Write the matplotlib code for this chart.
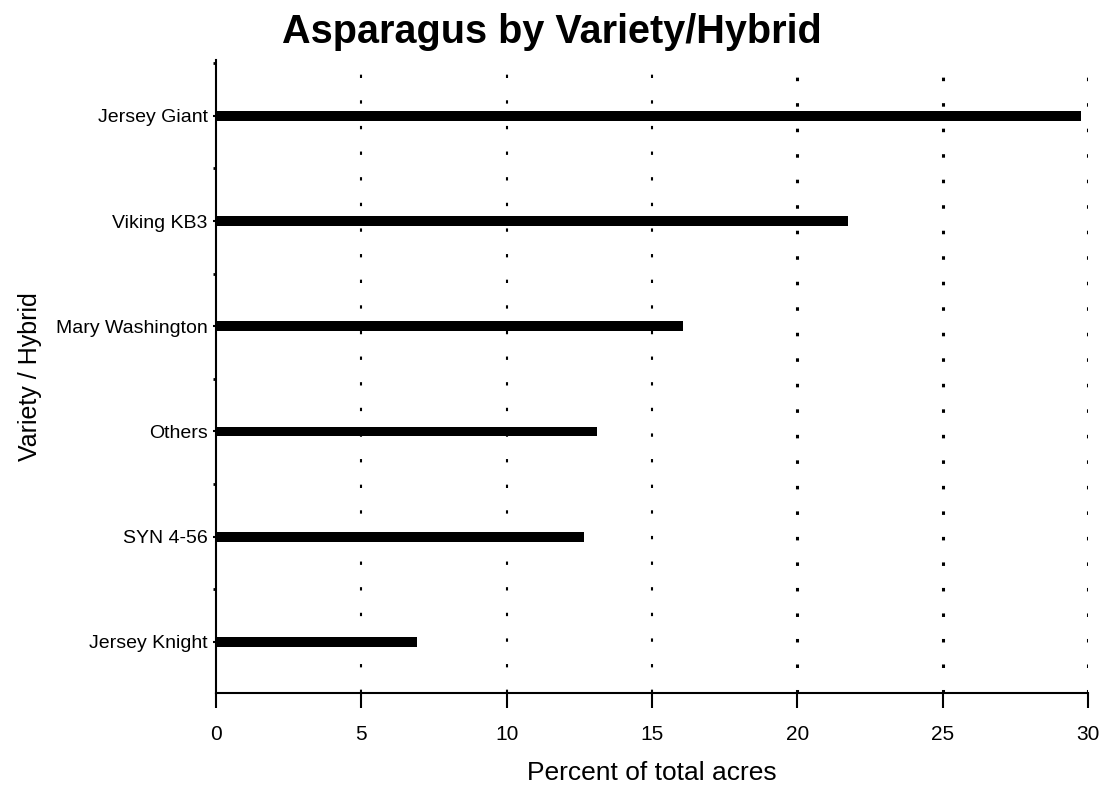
import matplotlib
matplotlib.use('Agg')
from matplotlib import pyplot as plt
import numpy as np

plt.rcParams['font.family'] = ['Liberation Sans', 'DejaVu Sans']

varieties = ['Jersey Giant', 'Viking KB3', 'Mary Washington', 'Others', 'SYN 4-56', 'Jersey Knight']
percent = [29.75, 21.75, 16.05, 13.1, 12.65, 6.9]
xticks = [0, 5, 10, 15, 20, 25, 30]

fig = plt.figure(figsize=(11, 7.91), dpi=100)
ax = fig.add_axes([0.1964, 0.1239, 0.7927, 0.8002])

ypos = np.arange(len(varieties))[::-1]
ax.barh(ypos, percent, height=0.095, color='black', zorder=2)

# dotted verticals, period ~25px
for x in xticks[1:]:
    if x >= 20:
        lw, pat = 2.2, (0, (1.15, 7.2))
    else:
        lw, pat = 1.5, (0, (1.6, 10.7))
    ax.axvline(x, color='black', lw=lw, linestyle=pat, zorder=1)

ax.set_xlim(0, 30)
ax.set_ylim(-0.485, 5.53)
ax.set_xticks(xticks)
ax.set_xticklabels([str(x) for x in xticks], fontsize=15)
ax.set_yticks(ypos)
ax.set_yticklabels(varieties, fontsize=14)
ax.set_yticks(np.arange(len(varieties)) + 0.5, minor=True)

for s in ['top', 'right']:
    ax.spines[s].set_visible(False)
for s in ['left', 'bottom']:
    ax.spines[s].set_linewidth(1.5)

ax.tick_params(axis='x', direction='out', length=11, width=1.5, pad=12)
ax.tick_params(axis='y', which='major', direction='out', length=2, width=1.5, pad=4)
ax.tick_params(axis='y', which='minor', direction='out', length=2, width=2)

ax.set_xlabel('Percent of total acres', fontsize=19, labelpad=12)
ax.set_ylabel('Variety / Hybrid', fontsize=18, labelpad=10)
fig.suptitle('Asparagus by Variety/Hybrid', fontsize=28.5, fontweight='bold', x=0.502, y=0.984)

plt.savefig('out.png')
print('done')
